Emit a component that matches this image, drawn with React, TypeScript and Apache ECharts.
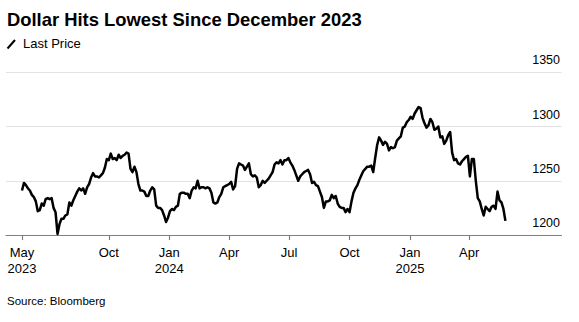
import React, { useEffect, useRef } from "react";
import * as echarts from "echarts";

const TITLE = "Dollar Hits Lowest Since December 2023";
const SERIES_NAME = "Last Price";
const SOURCE = "Source: Bloomberg";

// Bloomberg Dollar Spot Index, sampled every 3 days from START_DATE
const START_DATE = [2023, 4, 22]; // 22 May 2023 (month is 0-based)
const STEP_DAYS = 3;
const values = [
  1241, 1248, 1246, 1243, 1241, 1237, 1235, 1231, 1222, 1223,
  1229, 1227, 1233, 1234, 1233, 1234, 1225, 1221, 1201, 1210,
  1215, 1215, 1218, 1219, 1230, 1227, 1232, 1236, 1240, 1243,
  1241, 1243, 1238, 1244, 1247, 1253, 1257, 1254, 1254, 1253,
  1255, 1257, 1262, 1270, 1269, 1275, 1270, 1271, 1269, 1274,
  1271, 1273, 1274, 1276, 1275, 1261, 1258, 1263, 1258, 1247,
  1241, 1241, 1240, 1236, 1236, 1241, 1244, 1242, 1227, 1225,
  1225, 1223, 1218, 1212, 1216, 1222, 1224, 1223, 1226, 1227,
  1238, 1239, 1239, 1238, 1238, 1234, 1241, 1244, 1243, 1250,
  1243, 1244, 1244, 1243, 1244, 1243, 1239, 1230, 1229, 1230,
  1235, 1238, 1244, 1245, 1246, 1247, 1249, 1242, 1245, 1261,
  1266, 1265, 1264, 1260, 1263, 1266, 1256, 1254, 1255, 1253,
  1244, 1246, 1250, 1248, 1250, 1252, 1255, 1258, 1265, 1267,
  1266, 1269, 1265, 1269, 1269, 1271, 1267, 1264, 1260, 1255,
  1250, 1254, 1256, 1258, 1259, 1260, 1256, 1248, 1249, 1246,
  1245, 1240, 1235, 1225, 1231, 1231, 1232, 1237, 1234, 1236,
  1229, 1226, 1225, 1225, 1221, 1224, 1221, 1231, 1239, 1243,
  1246, 1251, 1255, 1259, 1261, 1263, 1263, 1264, 1258, 1271,
  1283, 1290, 1287, 1283, 1286, 1284, 1278, 1281, 1280, 1281,
  1287, 1289, 1291, 1299, 1300, 1304, 1306, 1309, 1307, 1312,
  1315, 1318, 1317, 1308, 1303, 1299, 1301, 1307, 1304, 1297,
  1298, 1300, 1290, 1291, 1284, 1287, 1292, 1295, 1276, 1269,
  1270, 1266, 1265, 1268, 1270, 1272, 1273, 1254, 1270, 1270,
  1250, 1234, 1231, 1224, 1218, 1226, 1224, 1222, 1226, 1227,
  1224, 1240, 1232, 1230, 1224, 1213,
];

// x-axis ticks
const tickDates = [
  [2023, 4, 22],
  [2023, 9, 1],
  [2024, 0, 1],
  [2024, 3, 1],
  [2024, 6, 1],
  [2024, 9, 1],
  [2025, 0, 1],
  [2025, 3, 1],
];
const tickMonths = ["May", "Oct", "Jan", "Apr", "Jul", "Oct", "Jan", "Apr"];
const tickYears = ["2023", "", "2024", "", "", "", "2025", ""];

// y-axis
const yMin = 1200;
const yMax = 1350;
const yStep = 50;

const DAY = 86400000;
const FONT = "'Liberation Sans', Arial, Helvetica, sans-serif";

export default function App() {
  const ref = useRef<HTMLDivElement>(null);

  useEffect(() => {
    if (!ref.current) return;
    const chart = echarts.init(ref.current, undefined, { renderer: "svg" });

    const start = Date.UTC(START_DATE[0], START_DATE[1], START_DATE[2]);
    const data = values.map((v, i) => [start + i * STEP_DAYS * DAY, v]);
    const ticks = tickDates.map((d) => Date.UTC(d[0], d[1], d[2]));

    const labelFor = (val: number) => {
      let best = 0;
      let bestD = Infinity;
      ticks.forEach((t, i) => {
        const d = Math.abs(t - val);
        if (d < bestD) {
          bestD = d;
          best = i;
        }
      });
      return tickYears[best] ? tickMonths[best] + "\n" + tickYears[best] : tickMonths[best];
    };

    chart.setOption({
      animation: false,
      backgroundColor: "#ffffff",
      textStyle: { fontFamily: FONT },
      grid: { left: 6, right: 17.5, top: 72.3, bottom: 87, containLabel: false },
      xAxis: {
        type: "value",
        min: Date.UTC(2023, 3, 27, 16),
        max: Date.UTC(2025, 7, 19, 7),
        axisLine: { show: true, lineStyle: { color: "#808080", width: 1.2 } },
        axisTick: {
          show: true,
          customValues: ticks,
          length: 5,
          lineStyle: { color: "#808080", width: 1.2 },
        },
        axisLabel: {
          show: true,
          customValues: ticks,
          formatter: (val: number) => labelFor(val),
          color: "#000",
          fontSize: 13,
          lineHeight: 16,
          margin: 9,
          fontFamily: FONT,
        },
        splitLine: { show: false },
      },
      yAxis: {
        type: "value",
        position: "right",
        min: yMin,
        max: yMax,
        interval: yStep,
        axisLine: { show: false },
        axisTick: { show: false },
        splitLine: { show: true, lineStyle: { color: "#e2e2e2", width: 1.2 } },
        axisLabel: {
          inside: true,
          margin: 1.5,
          color: "#000",
          fontSize: 12.5,
          verticalAlign: "bottom",
          lineHeight: 24,
          formatter: (v: number) => String(v),
          fontFamily: FONT,
        },
      },
      series: [
        {
          name: SERIES_NAME,
          type: "line",
          data,
          showSymbol: false,
          symbol: "none",
          silent: true,
          lineStyle: { color: "#000", width: 2.5, join: "round" },
        },
      ],
      graphic: [
        {
          type: "text",
          left: 7,
          top: 10,
          style: {
            text: TITLE,
            fill: "#000",
            font: `bold 18.4px ${FONT}`,
          },
        },
        {
          type: "line",
          shape: { x1: 7.5, y1: 48.5, x2: 15, y2: 40 },
          style: { stroke: "#000", lineWidth: 2 },
        },
        {
          type: "text",
          left: 23,
          top: 37,
          style: {
            text: SERIES_NAME,
            fill: "#000",
            font: `13px ${FONT}`,
          },
        },
        {
          type: "text",
          left: 7,
          top: 295,
          style: {
            text: SOURCE,
            fill: "#000",
            font: `11.5px ${FONT}`,
          },
        },
      ],
    });

    return () => chart.dispose();
  }, []);

  return (
    <div
      ref={ref}
      style={{ position: "fixed", left: 0, top: 0, width: 579, height: 322, background: "#fff" }}
    />
  );
}
